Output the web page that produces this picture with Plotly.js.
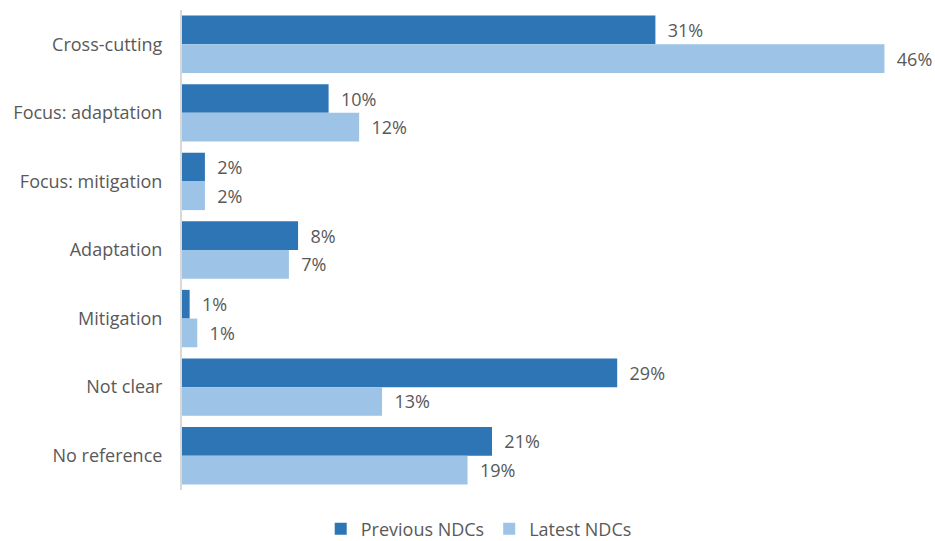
<!DOCTYPE html>
<html>
<head>
<meta charset="utf-8">
<script src="https://cdn.plot.ly/plotly-3.0.1.min.js"></script>
<style>html,body{margin:0;padding:0;background:#fff;}#chart{width:935px;height:541px;}</style>
</head>
<body>
<div id="chart"></div>
<script>
const categories = ["Cross-cutting", "Focus: adaptation", "Focus: mitigation", "Adaptation", "Mitigation", "Not clear", "No reference"];
const previousValues = [31.0, 9.6, 1.5, 7.6, 0.5, 28.5, 20.3];
const latestValues = [46.0, 11.6, 1.5, 7.0, 1.0, 13.1, 18.7];
const previousLabels = ["31%", "10%", "2%", "8%", "1%", "29%", "21%"];
const latestLabels = ["46%", "12%", "2%", "7%", "1%", "13%", "19%"];

const pad = "\u00a0\u00a0";
const labelFont = {family: "Open Sans, sans-serif", size: 18, color: "#595959"};

const traces = [
  {
    type: "bar", orientation: "h", name: "Previous NDCs",
    y: categories, x: previousValues,
    text: previousLabels.map(t => pad + t),
    textposition: "outside", cliponaxis: false,
    textfont: labelFont,
    marker: {color: "#2E75B6"},
    hoverinfo: "skip"
  },
  {
    type: "bar", orientation: "h", name: "Latest NDCs",
    y: categories, x: latestValues,
    text: latestLabels.map(t => pad + t),
    textposition: "outside", cliponaxis: false,
    textfont: labelFont,
    marker: {color: "#9DC3E6"},
    hoverinfo: "skip"
  }
];

const layout = {
  width: 935, height: 541,
  margin: {l: 182, r: 20, t: 10, b: 51},
  paper_bgcolor: "#fff", plot_bgcolor: "#fff",
  barmode: "group", bargap: 0.163, bargroupgap: 0,
  font: {family: "Open Sans, sans-serif", color: "#595959", size: 18},
  xaxis: {range: [0, 48], showgrid: false, zeroline: false, showticklabels: false, showline: false, ticks: ""},
  yaxis: {autorange: "reversed", showgrid: false, zeroline: false, showline: true, linecolor: "#D9D9D9", linewidth: 2,
          ticks: "", ticklabelstandoff: 14, tickfont: {family: "Open Sans, sans-serif", size: 18, color: "#595959"}},
  showlegend: true,
  legend: {orientation: "h", xref: "container", x: 0.512, xanchor: "center", yref: "container", y: 0.022, yanchor: "middle",
           font: {family: "Open Sans, sans-serif", size: 18, color: "#595959"}, itemwidth: 30, traceorder: "normal"}
};

Plotly.newPlot("chart", traces, layout, {displayModeBar: false, staticPlot: true});
</script>
</body>
</html>
